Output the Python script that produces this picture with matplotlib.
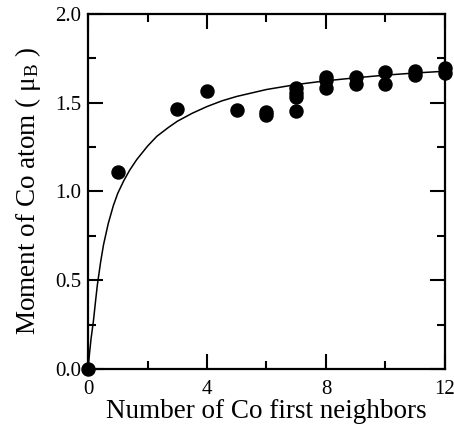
import matplotlib
matplotlib.use("Agg")
import matplotlib.pyplot as plt
from matplotlib.ticker import MultipleLocator

plt.rcParams["font.family"] = ["Liberation Serif", "DejaVu Serif"]
plt.rcParams["mathtext.fontset"] = "custom"
plt.rcParams["mathtext.rm"] = "Liberation Serif"
plt.rcParams["mathtext.it"] = "Liberation Serif:italic"

# Datos: número de vecinos Co y momento magnético
n_vecinos = [0, 1, 3, 4, 5, 6, 6, 7, 7, 7, 7, 8, 8, 8, 9, 9, 10, 10, 11, 11, 12, 12]
momento = [0.0, 1.11, 1.465, 1.565, 1.46, 1.445, 1.43, 1.58, 1.555, 1.53, 1.455,
           1.645, 1.628, 1.585, 1.643, 1.606, 1.675, 1.606, 1.679, 1.656, 1.694, 1.666]

# Curva de ajuste (puntos leídos sobre la línea)
curva_x = [0, 0.05, 0.1, 0.18, 0.25, 0.31, 0.42, 0.52, 0.68, 0.85, 1.0, 1.2, 1.4,
           1.64, 2.0, 2.31, 2.7, 3.0, 3.5, 4, 4.5, 5, 6, 7, 8, 9, 10, 11, 12]
curva_y = [0, 0.09, 0.17, 0.27, 0.38, 0.47, 0.60, 0.70, 0.82, 0.92, 0.99, 1.06,
           1.12, 1.18, 1.255, 1.31, 1.36, 1.395, 1.44, 1.478, 1.51, 1.535, 1.574,
           1.602, 1.623, 1.64, 1.655, 1.667, 1.677]

fig = plt.figure(figsize=(4.54, 4.34), dpi=100)
ax = fig.add_axes([0.194, 0.150, 0.786, 0.818])

ax.plot(curva_x, curva_y, color="black", linewidth=1.1)
ax.plot(n_vecinos, momento, "o", color="black", markersize=9.4, clip_on=False, zorder=5)

ax.set_xlim(0, 12)
ax.set_ylim(0, 2.0)
ax.xaxis.set_major_locator(MultipleLocator(4))
ax.xaxis.set_minor_locator(MultipleLocator(2))
ax.yaxis.set_major_locator(MultipleLocator(0.5))
ax.yaxis.set_minor_locator(MultipleLocator(0.25))
ax.xaxis.set_major_formatter(plt.FuncFormatter(lambda v, p: "%d" % v))
ax.yaxis.set_major_formatter(plt.FuncFormatter(lambda v, p: "%.1f" % v))

ax.tick_params(which="both", direction="in", top=True, right=True, width=1.5,
               labelsize=15)
ax.tick_params(axis="x", which="both", pad=8)
ax.tick_params(axis="y", which="both", pad=5)
ax.tick_params(which="major", length=11)
ax.tick_params(which="minor", length=5.5)
for s in ax.spines.values():
    s.set_linewidth(1.6)

ax.set_xlabel("Number of Co first neighbors", fontsize=19.5, labelpad=0)
ax.set_ylabel(r"Moment of Co atom ( μ$_{\rm B}$ )", fontsize=19.5, labelpad=9)

plt.savefig("out.png", dpi=100)
